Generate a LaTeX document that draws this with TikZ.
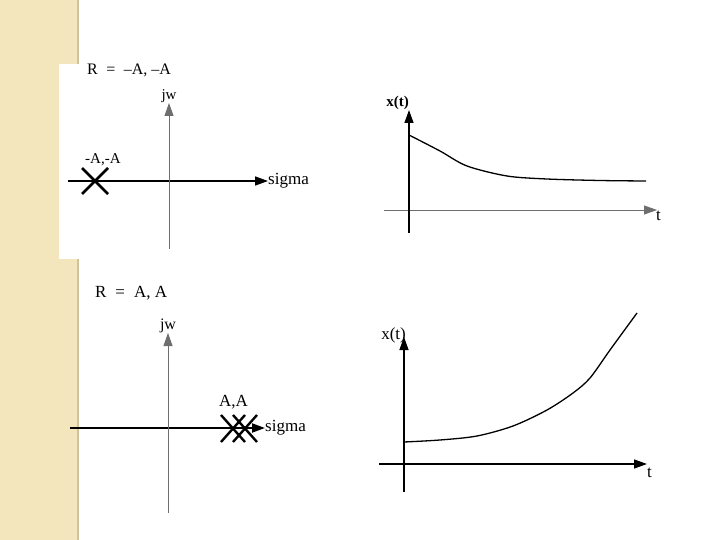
\documentclass[tikz,border=0pt]{standalone}
\usepackage{fontspec}
\setmainfont{Liberation Serif}
\usetikzlibrary{arrows.meta, calc}

\definecolor{stripbeige}{RGB}{243,229,188}
\definecolor{stripedge}{RGB}{208,194,156}
\definecolor{axisgray}{RGB}{110,110,110}

\begin{document}
\begin{tikzpicture}[x=1pt, y=-1pt,
    axis/.style={-{Triangle[length=13pt,width=9pt]}},
    pole/.style={line width=2.8pt},
    lbl/.style={inner sep=0pt, font=\fontsize{15}{15}\selectfont}]
    \useasboundingbox (0,0) rectangle (720,540);

    % Side strip and inset
    \fill[stripbeige] (0,0) rectangle (77,540);
    \fill[stripedge] (77,0) rectangle (79,540);
    \fill[white] (59,64) rectangle (79,259);

    % Top pole plot
    \node (rtop) [lbl, anchor=west, font=\fontsize{16}{16}\selectfont] at (87,70) {R \;= \;–A, –A};
    \coordinate (sl1) at (68,181);
    \coordinate (sr1) at (268,181);
    \coordinate (jb1) at (169,249);
    \coordinate (jt1) at (169,103);
    \draw[axis, line width=1.6pt] (sl1) -- (sr1);
    \draw[axis, axisgray, line width=0.9pt] (jb1) -- (jt1);
    \node (jw1) [lbl, anchor=south] at (jt1) {jw};
    \node (sig1) [lbl, anchor=west, font=\fontsize{17}{17}\selectfont] at (sr1) {sigma};
    \coordinate (p1) at (95,181);
    \draw[pole] ($(p1)+(-13,-13)$) -- ($(p1)+(13,13)$);
    \draw[pole] ($(p1)+(-13,13)$) -- ($(p1)+(13,-13)$);
    \node (pl1) [lbl, anchor=south west] at (85,166) {-A,-A};

    % Top response
    \coordinate (tl1) at (384,210);
    \coordinate (tr1) at (657,210);
    \coordinate (xb1) at (409,233);
    \coordinate (xt1) at (409,110);
    \draw[axis, axisgray, line width=0.8pt] (tl1) -- (tr1);
    \draw[axis, line width=1.4pt] (xb1) -- (xt1);
    \node (xl1) [lbl, anchor=south east, font=\bfseries\fontsize{15}{15}\selectfont] at (409,110) {x(t)};
    \node (t1) [lbl, anchor=north west, font=\fontsize{17}{17}\selectfont] at (656,211) {t};
    \draw[line width=1.3pt] plot[smooth, tension=0.5] coordinates {(409,135) (440,151) (467,166) (507,176) (547,179) (600,180.5) (646,181)};

    % Bottom pole plot
    \node (rbot) [lbl, anchor=west, font=\fontsize{17}{17}\selectfont] at (95,293) {R \;= \;A, A};
    \coordinate (sl2) at (70,428);
    \coordinate (sr2) at (265,428);
    \coordinate (jb2) at (168,513);
    \coordinate (jt2) at (168,333);
    \draw[axis, line width=2pt] (sl2) -- (sr2);
    \draw[axis, axisgray, line width=0.9pt] (jb2) -- (jt2);
    \node (jw2) [lbl, anchor=south, font=\fontsize{16}{16}\selectfont] at (jt2) {jw};
    \node (sig2) [lbl, anchor=west, font=\fontsize{17}{17}\selectfont] at (sr2) {sigma};
    \foreach \px in {233,245} {
        \draw[pole, line width=2.4pt] (\px-12,415) -- (\px+12,442);
        \draw[pole, line width=2.4pt] (\px-12,442) -- (\px+12,415);
    }
    \node (pl2) [lbl, anchor=south west, font=\fontsize{17}{17}\selectfont] at (219,409) {A,A};

    % Bottom response
    \coordinate (tl2) at (379,464);
    \coordinate (tr2) at (647,464);
    \coordinate (xb2) at (404,492);
    \coordinate (xt2) at (404,337);
    \draw[axis, line width=1.4pt] (tl2) -- (tr2);
    \draw[axis, line width=1.4pt] (xb2) -- (xt2);
    \node (xl2) [lbl, anchor=south east, font=\fontsize{17}{17}\selectfont] at (406,343) {x(t)};
    \node (t2) [lbl, anchor=north west, font=\fontsize{17}{17}\selectfont] at (647,468) {t};
    \draw[line width=1.3pt] plot[smooth, tension=0.5] coordinates {(404,442) (440,440) (477,436) (513,426) (547,410) (573,393) (590,378) (610,350) (637,313)};
\end{tikzpicture}
\end{document}
